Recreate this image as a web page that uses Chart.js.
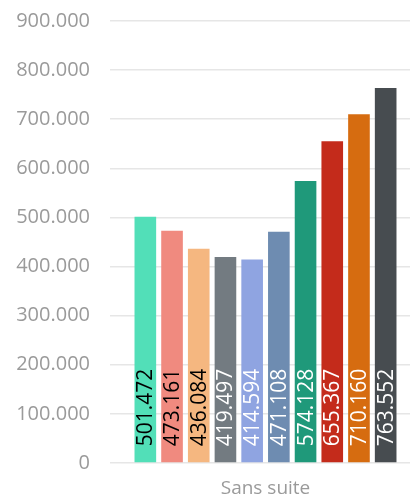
<!DOCTYPE html>
<html>
<head>
  <title>Sans suite</title>
  <script src="https://cdn.jsdelivr.net/npm/chart.js@4.4.0/dist/chart.umd.min.js"></script>
  <style>
    html, body { margin: 0; padding: 0; background: #fff; }
    .chart-container { position: relative; width: 410px; height: 501px; }
  </style>
</head>
<body>
  <div class="chart-container">
    <canvas id="chart"></canvas>
  </div>

  <script>
// Data
var categories = ["Sans suite"];
var seriesValues = [501472, 473161, 436084, 419497, 414594, 471108, 574128, 655367, 710160, 763552];
var seriesColors = ["#52dfb8", "#f08a7f", "#f5b780", "#737b81", "#8fa4e1", "#6e8cb1", "#1f997a", "#c42b1b", "#d66c10", "#474c50"];
var labelColors = ["#000", "#000", "#000", "#fff", "#fff", "#fff", "#fff", "#fff", "#fff", "#fff"];
var yTicks = [0, 100000, 200000, 300000, 400000, 500000, 600000, 700000, 800000, 900000];

var FONT = "'Open Sans', sans-serif";

function fmt(v) {
  return String(Math.round(v)).replace(/\B(?=(\d{3})+(?!\d))/g, ".");
}

// Draw the values inside the bars, rotated, from the bottom up
var barLabels = {
  id: "barLabels",
  afterDatasetsDraw: function(chart) {
    var ctx = chart.ctx;
    ctx.save();
    ctx.font = "21px " + FONT;
    chart.data.datasets.forEach(function(ds, i) {
      var meta = chart.getDatasetMeta(i);
      meta.data.forEach(function(bar, j) {
        ctx.save();
        ctx.translate(bar.x, bar.base - 16);
        ctx.rotate(-Math.PI / 2);
        ctx.fillStyle = labelColors[i];
        ctx.textAlign = "left";
        ctx.textBaseline = "middle";
        ctx.fillText(fmt(ds.data[j]), 0, 1);
        ctx.restore();
      });
    });
    ctx.restore();
  }
};

var datasets = seriesValues.map(function(v, i) {
  return {
    label: "s" + i,
    data: [v],
    backgroundColor: seriesColors[i],
    borderWidth: 0
  };
});

new Chart(document.getElementById("chart"), {
  type: "bar",
  data: { labels: categories, datasets: datasets },
  plugins: [barLabels],
  options: {
    responsive: true,
    maintainAspectRatio: false,
    animation: false,
    layout: { padding: { top: 0, right: 0, bottom: 0, left: 14 } },
    datasets: { bar: { categoryPercentage: 0.924, barPercentage: 0.81 } },
    plugins: { legend: { display: false }, tooltip: { enabled: false } },
    scales: {
      x: {
        grid: { display: false, drawTicks: false },
        border: { display: false },
        ticks: { color: "#9a9a9a", font: { family: FONT, size: 19 }, padding: 14 },
        afterFit: function(axis) { axis.height = 38; }
      },
      y: {
        min: 0,
        max: 900000,
        afterBuildTicks: function(axis) {
          axis.ticks = yTicks.map(function(v) { return { value: v }; });
        },
        grid: { color: "#e6e6e6", lineWidth: 1.5, tickLength: 11 },
        border: { display: false },
        ticks: {
          color: "#9a9a9a",
          font: { family: FONT, size: 20 },
          padding: 20,
          callback: function(v) { return fmt(v); }
        },
        afterFit: function(axis) {
          axis.width = 107;
          axis.paddingTop = 21;
          axis.paddingBottom = 12;
        }
      }
    }
  }
});
  </script>
</body>
</html>
